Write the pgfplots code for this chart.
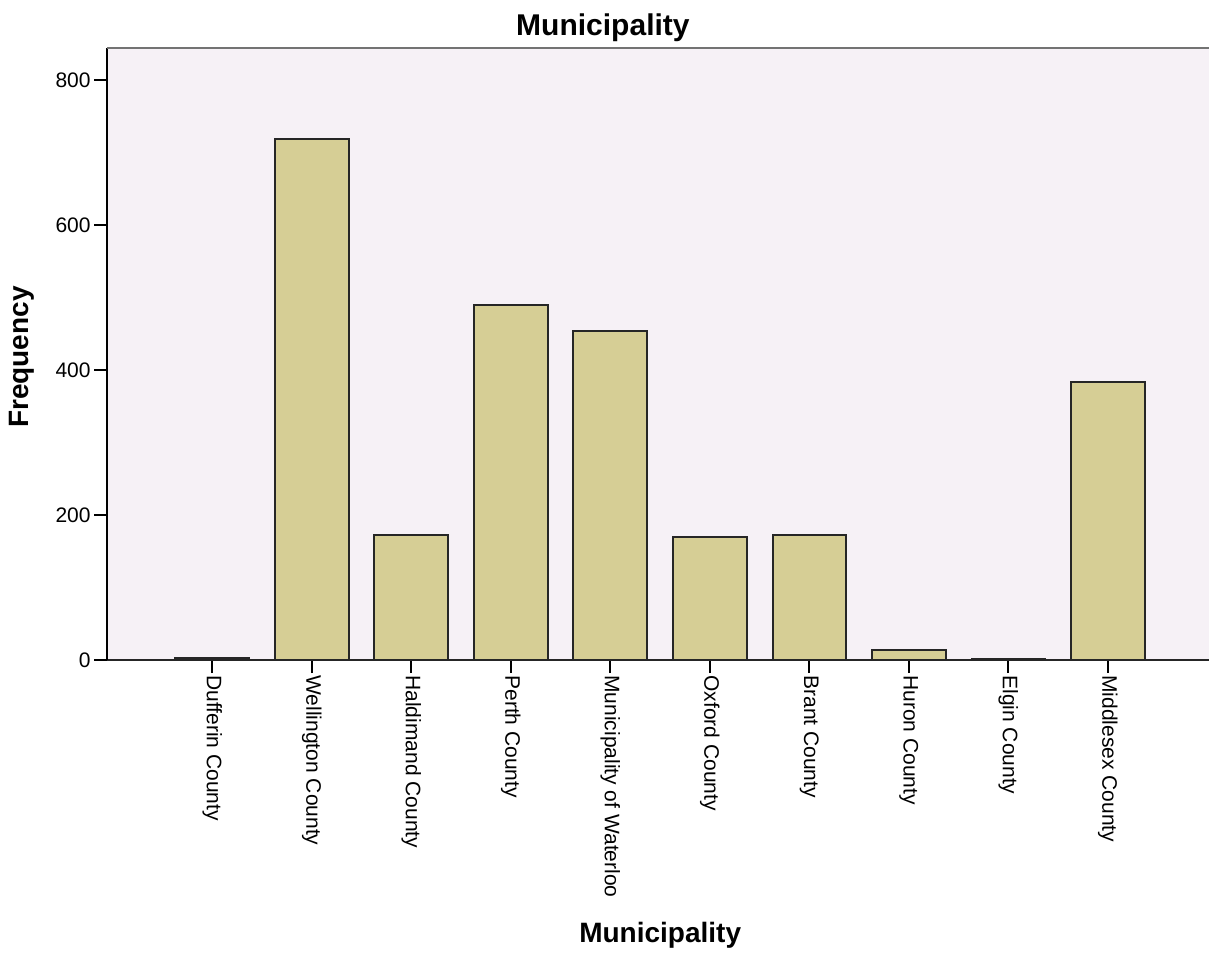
\documentclass[border=0pt]{standalone}
\usepackage{pgfplots}
\pgfplotsset{compat=1.18}
\usepackage{fontspec}
\setmainfont{Liberation Sans}
\definecolor{bgc}{HTML}{F6F1F6}
\definecolor{barc}{HTML}{D6CE95}
\begin{document}
\begin{tikzpicture}
\useasboundingbox (0,0) rectangle (604.5pt,476.5pt);
\begin{axis}[
  at={(53.5pt,146.5pt)}, anchor=south west,
  scale only axis, width=551pt, height=306pt,
  xmin=-1.058, xmax=10.017, ymin=0, ymax=844,
  axis lines*=left,
  axis line style={-},
  x axis line style={draw=black!85, line width=0.9pt},
  y axis line style={draw=black, line width=0.9pt},
  axis background/.style={fill=bgc},
  tick align=outside,
  major tick length=6.5pt,
  every tick/.style={black, line width=0.9pt},
  xtick={0,...,9},
  xticklabels={Dufferin County,Wellington County,Haldimand County,Perth County,Municipality of Waterloo,Oxford County,Brant County,Huron County,Elgin County,Middlesex County},
  xticklabel style={rotate=-90, anchor=west, font=\fontsize{10.5}{12}\selectfont, inner sep=1pt},
  ytick={0,200,400,600,800},
  yticklabel style={font=\fontsize{10.5}{12}\selectfont, inner sep=1.5pt},
  /pgf/number format/assume math mode=true,
  scaled y ticks=false,
  title={Municipality},
  title style={at={(axis description cs:0.45,1)}, anchor=center, yshift=4pt, font=\bfseries\fontsize{15}{18}\selectfont},
  xlabel={Municipality},
  xlabel style={at={(axis description cs:0.502,0)}, anchor=center, yshift=-137.5pt, font=\bfseries\fontsize{14}{17}\selectfont},
  ylabel={Frequency},
  ylabel style={at={(axis description cs:-0.0771,0.495)}, anchor=center, font=\bfseries\fontsize{14}{17}\selectfont},
  clip=false,
]
\addplot[ybar, bar width=36.8pt, fill=barc, draw=black!85, line width=1pt] coordinates {
  (0,3) (1,719) (2,172) (3,490) (4,454) (5,170) (6,172) (7,14) (8,1) (9,383)
};
\draw[color=black!55, line width=1.2pt] (rel axis cs:0,1) -- (rel axis cs:1,1);
\end{axis}
\end{tikzpicture}
\end{document}
